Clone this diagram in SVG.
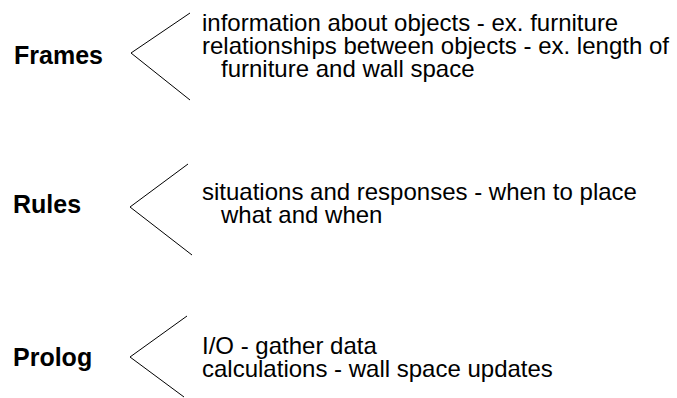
<svg xmlns="http://www.w3.org/2000/svg" width="677" height="398" viewBox="0 0 677 398">
<style>
.h{font-family:"Liberation Sans",Arial,sans-serif;font-weight:bold;font-size:25px;fill:#000}
.t{font-family:"Liberation Sans",Arial,sans-serif;font-size:24px;fill:#000}
.b{fill:none;stroke:#000;stroke-width:1}
</style>
<rect width="677" height="398" fill="#fff"/>
<g id="connectors">
<polyline class="b" points="190,13 131,53 190,100"/>
<polyline class="b" points="188,164 130,207 192,255"/>
<polyline class="b" points="187,316 130,357 184,397"/>
</g>
<g id="frames">
<text class="h" x="14" y="64">Frames</text>
<text class="t" x="202" y="31">information about objects - ex. furniture</text>
<text class="t" x="202" y="54">relationships between objects - ex. length of</text>
<text class="t" x="221" y="77">furniture and wall space</text>
</g>
<g id="rules">
<text class="h" x="13" y="213">Rules</text>
<text class="t" x="202" y="200">situations and responses - when to place</text>
<text class="t" x="221" y="223">what and when</text>
</g>
<g id="prolog">
<text class="h" x="13" y="366">Prolog</text>
<text class="t" x="202" y="354">I/O - gather data</text>
<text class="t" x="202" y="377">calculations - wall space updates</text>
</g>
</svg>
